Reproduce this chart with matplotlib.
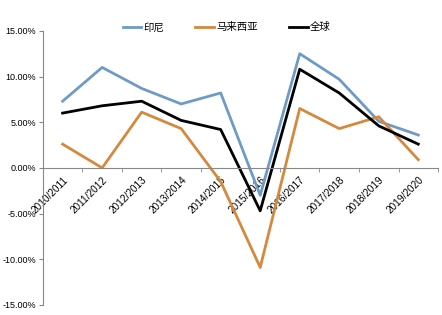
import numpy as np
import matplotlib.pyplot as plt
from matplotlib.ticker import FuncFormatter, FixedLocator

plt.rcParams['font.family'] = ['Liberation Sans', 'Noto Sans CJK SC', 'DejaVu Sans']

seasons = ['2010/2011', '2011/2012', '2012/2013', '2013/2014', '2014/2015',
           '2015/2016', '2016/2017', '2017/2018', '2018/2019', '2019/2020']
# 同比增速, %
indonesia = [7.3, 11.0, 8.7, 7.0, 8.2, -3.0, 12.5, 9.7, 5.1, 3.6]
malaysia = [2.6, 0.0, 6.1, 4.3, -1.5, -10.9, 6.5, 4.3, 5.6, 0.9]
world = [6.0, 6.8, 7.3, 5.2, 4.2, -4.7, 10.8, 8.2, 4.6, 2.6]


def main():
    fig = plt.figure(figsize=(4.42, 3.15), dpi=100)
    ax = fig.add_axes([0.097, 0.032, 0.894, 0.87])
    x = np.arange(len(seasons))

    ax.plot(x, indonesia, color='#6e9bc5', lw=2, label='印尼')
    ax.plot(x, malaysia, color='#d4893c', lw=2, label='马来西亚')
    ax.plot(x, world, color='black', lw=2, label='全球')

    ax.set_xlim(-0.5, len(seasons) - 0.5)
    ax.set_ylim(-15, 15)
    ax.set_yticks(np.arange(-15, 16, 5))
    ax.yaxis.set_major_formatter(FuncFormatter(lambda v, p: '%.2f%%' % v))
    ax.tick_params(axis='y', labelsize=6.5, length=3, color='#888888', pad=2)

    # x轴放在0处, 刻度线在类别之间
    ax.spines['bottom'].set_position(('data', 0))
    ax.spines['top'].set_visible(False)
    ax.spines['right'].set_visible(False)
    ax.spines['bottom'].set_color('#888888')
    ax.spines['left'].set_color('#888888')
    ax.set_xticks(x)
    ax.set_xticklabels(seasons, rotation=45, ha='right', va='top',
                       rotation_mode='anchor', fontsize=7.2)
    ax.xaxis.set_minor_locator(FixedLocator(np.arange(0.5, len(seasons), 1)))
    ax.tick_params(axis='x', which='major', length=0, pad=5)
    ax.tick_params(axis='x', which='minor', length=3, color='#888888')

    ax.legend(loc='upper center', bbox_to_anchor=(0.465, 1.065), ncol=3, frameon=False,
              fontsize=7.5, handlelength=1.8, handletextpad=0.2, columnspacing=3.0)

    plt.savefig('out.png')


if __name__ == "__main__":
    main()
